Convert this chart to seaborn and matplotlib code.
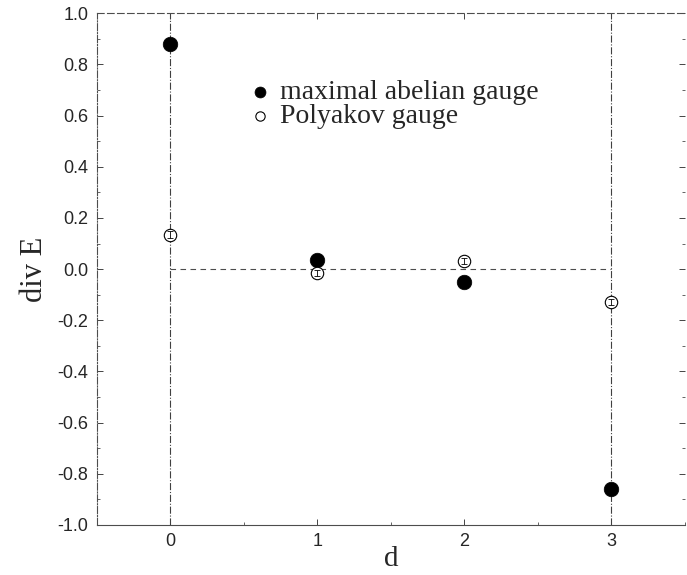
import numpy as np
import pandas as pd
import matplotlib
matplotlib.use("Agg")
import matplotlib.pyplot as plt
import seaborn as sns

d_vals = [0, 1, 2, 3]
maximal_abelian = [0.88, 0.035, -0.05, -0.86]
polyakov = [0.135, -0.015, 0.03, -0.13]
polyakov_err = [0.012, 0.012, 0.012, 0.012]
y_ticks = [-1.0, -0.8, -0.6, -0.4, -0.2, 0.0, 0.2, 0.4, 0.6, 0.8, 1.0]

sns.set_style("ticks")
plt.rcParams['font.family'] = ['Liberation Sans', 'DejaVu Sans']

df = pd.DataFrame({'d': d_vals, 'ma': maximal_abelian, 'pol': polyakov, 'err': polyakov_err})

fig = plt.figure(figsize=(6.87, 5.75), dpi=100)
ax = fig.add_axes([0.141, 0.087, 0.856, 0.890])

# guide lines
ax.axvline(0, color='0.25', lw=0.8, ls='-.', zorder=1)
ax.axvline(3, color='0.25', lw=0.8, ls='-.', zorder=1)
ax.plot([0, 3], [0, 0], color='0.3', lw=0.8, ls=(0, (5, 4)), zorder=1)

sns.scatterplot(data=df, x='d', y='ma', ax=ax, color='black', s=110,
                edgecolor='black', linewidth=0.5, zorder=3,
                label='maximal abelian gauge')
ax.errorbar(df['d'], df['pol'], yerr=df['err'], fmt='none', ecolor='black',
            elinewidth=0.6, capsize=2, capthick=0.6, zorder=4)
sns.scatterplot(data=df, x='d', y='pol', ax=ax, facecolor='white', s=80,
                edgecolor='black', linewidth=0.8, zorder=3,
                label='Polyakov gauge')

ax.set_xlim(-0.5, 3.5)
ax.set_ylim(-1.0, 1.0)
ax.set_xticks(d_vals)
ax.set_yticks(y_ticks)
ax.set_yticklabels([f'{v:.1f}' for v in y_ticks])
ax.set_yticks(np.arange(-1.0, 1.01, 0.1), minor=True)
ax.set_xticks(np.arange(-0.5, 3.51, 0.5), minor=True)
ax.tick_params(direction='in', length=4, width=0.6, labelsize=13, right=True, top=True, pad=6)
ax.tick_params(which='minor', direction='in', length=2, width=0.5, right=True, top=False)

for side in ['left', 'top', 'bottom']:
    ax.spines[side].set_linewidth(0.8)
    ax.spines[side].set_color('0.3')
ax.spines['left'].set_linestyle('-.')
ax.spines['top'].set_linestyle((0, (6, 3)))
ax.spines['right'].set_visible(False)

ax.set_xlabel('d', family='Liberation Serif', fontsize=21, labelpad=-3)
ax.set_ylabel('div E', family='Liberation Serif', fontsize=22, labelpad=6)

leg = ax.legend(loc='upper left', bbox_to_anchor=(0.207, 0.919), frameon=False,
                prop={'family': 'Liberation Serif', 'size': 20},
                handletextpad=0.1, labelspacing=-0.05, markerscale=0.75,
                handlelength=1.2)

fig.savefig('out.png', dpi=100)
